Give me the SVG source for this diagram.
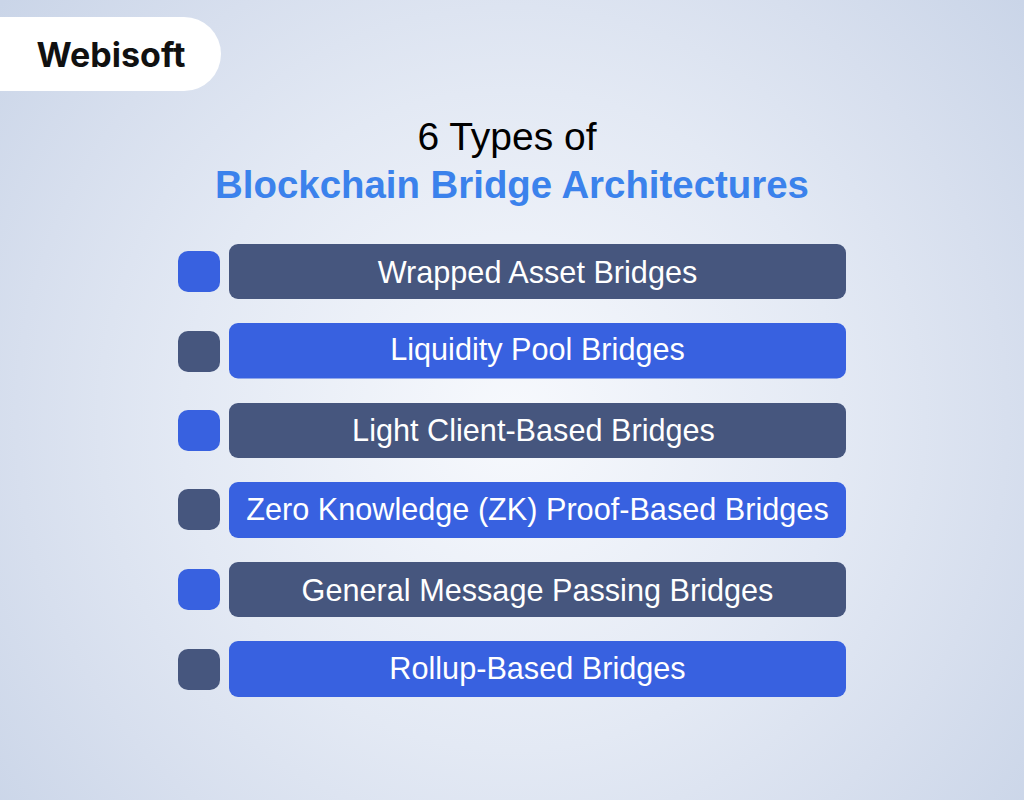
<svg xmlns="http://www.w3.org/2000/svg" width="1024" height="800" viewBox="0 0 1024 800">
<defs>
<radialGradient id="bg" cx="512" cy="420" r="660" gradientUnits="userSpaceOnUse">
<stop offset="0" stop-color="#f7f9fd"/>
<stop offset="0.5" stop-color="#e3e9f4"/>
<stop offset="0.75" stop-color="#d7dfee"/>
<stop offset="1" stop-color="#cad5e8"/>
</radialGradient>
</defs>
<style>
.t{font-family:"Liberation Sans",Arial,sans-serif}
.l{font-size:30.650px;fill:#fff;text-anchor:middle}
.d{fill:#46567e}
.b{fill:#3861e0}
</style>
<rect width="1024" height="800" fill="url(#bg)"/>
<g id="logo"><path d="M0 17H184a37 37 0 0 1 0 74H0Z" fill="#fff"/>
<text x="36.500" y="67" font-family="Inter,'Liberation Sans',sans-serif" font-size="34" font-weight="700" fill="#111">Webisoft</text></g>
<g id="title">
<text x="507" y="150" class="t" font-size="39" text-anchor="middle" fill="#000">6 Types of</text>
<text x="512" y="198" class="t" font-size="38.400" font-weight="700" text-anchor="middle" fill="#3b82ec">Blockchain Bridge Architectures</text>
</g>
<g id="n1"><rect x="178" y="251" width="42" height="41" rx="10" class="b"/><rect x="229" y="244" width="617" height="55" rx="9" class="d"/><text x="537.500" y="283" class="t l">Wrapped Asset Bridges</text></g>
<g id="n2"><rect x="178" y="331" width="42" height="41" rx="10" class="d"/><rect x="229" y="323" width="617" height="55.500" rx="9" class="b"/><text x="537.500" y="360" class="t l">Liquidity Pool Bridges</text></g>
<g id="n3"><rect x="178" y="410" width="42" height="41" rx="10" class="b"/><rect x="229" y="403" width="617" height="55" rx="9" class="d"/><text x="533.500" y="441" class="t l">Light Client-Based Bridges</text></g>
<g id="n4"><rect x="178" y="489" width="42" height="41" rx="10" class="d"/><rect x="229" y="482" width="617" height="56" rx="9" class="b"/><text x="537.500" y="520" class="t l">Zero Knowledge (ZK) Proof-Based Bridges</text></g>
<g id="n5"><rect x="178" y="569" width="42" height="41" rx="10" class="b"/><rect x="229" y="562" width="617" height="55" rx="9" class="d"/><text x="537.500" y="601" class="t l">General Message Passing Bridges</text></g>
<g id="n6"><rect x="178" y="649" width="42" height="41" rx="10" class="d"/><rect x="229" y="641" width="617" height="56" rx="9" class="b"/><text x="537.500" y="679" class="t l">Rollup-Based Bridges</text></g>
</svg>
